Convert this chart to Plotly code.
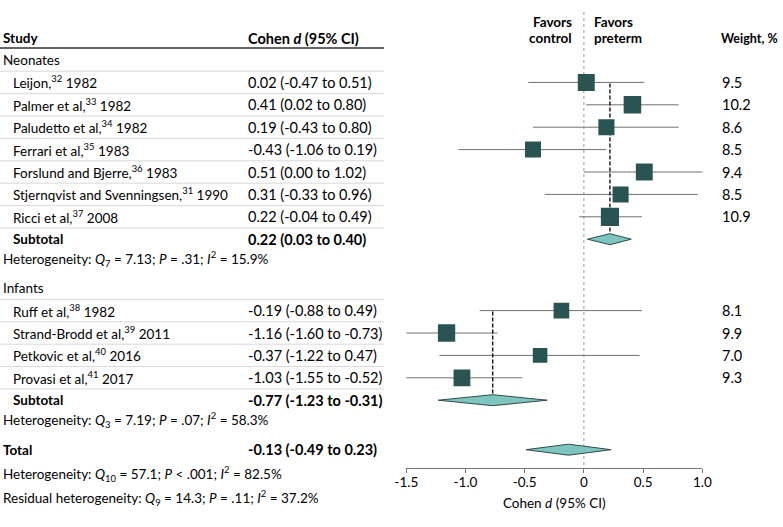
import plotly.graph_objects as go

# study rows
neo_labels = ["Leijon,<sup>32</sup> 1982", "Palmer et al,<sup>33</sup> 1982",
              "Paludetto et al,<sup>34</sup> 1982", "Ferrari et al,<sup>35</sup> 1983",
              "Forslund and Bjerre,<sup>36</sup> 1983",
              "Stjernqvist and Svenningsen,<sup>31</sup> 1990", "Ricci et al,<sup>37</sup> 2008"]
neo_d = [0.02, 0.41, 0.19, -0.43, 0.51, 0.31, 0.22]
neo_lo = [-0.47, 0.02, -0.43, -1.06, 0.00, -0.33, -0.04]
neo_hi = [0.51, 0.80, 0.80, 0.19, 1.02, 0.96, 0.49]
neo_w = [9.5, 10.2, 8.6, 8.5, 9.4, 8.5, 10.9]

inf_labels = ["Ruff et al,<sup>38</sup> 1982", "Strand-Brodd et al,<sup>39</sup> 2011",
              "Petkovic et al,<sup>40</sup> 2016", "Provasi et al,<sup>41</sup> 2017"]
inf_d = [-0.19, -1.16, -0.37, -1.03]
inf_lo = [-0.88, -1.60, -1.22, -1.55]
inf_hi = [0.49, -0.73, 0.47, -0.52]
inf_w = [8.1, 9.9, 7.0, 9.3]

# pooled estimates (d, lo, hi)
neo_sub = (0.22, 0.03, 0.40)
inf_sub = (-0.77, -1.23, -0.31)
total = (-0.13, -0.49, 0.23)

neo_het = "Heterogeneity: <i>Q</i><sub>7</sub> = 7.13; <i>P</i> = .31; <i>I</i><sup>2</sup> = 15.9%"
inf_het = "Heterogeneity: <i>Q</i><sub>3</sub> = 7.19; <i>P</i> = .07; <i>I</i><sup>2</sup> = 58.3%"
tot_het = "Heterogeneity: <i>Q</i><sub>10</sub> = 57.1; <i>P</i> < .001; <i>I</i><sup>2</sup> = 82.5%"
res_het = "Residual heterogeneity: <i>Q</i><sub>9</sub> = 14.3; <i>P</i> = .11; <i>I</i><sup>2</sup> = 37.2%"

tick_vals = [-1.5, -1.0, -0.5, 0, 0.5, 1.0]
tick_text = ["-1.5", "-1.0", "-0.5", "0", "0.5", "1.0"]

W, H = 783, 527
FONT = "Lato"
FS = 13.5
FS_NUM = 14.5
SQ = "#2a5452"
DIA = "#7ec5bf"
CI = "#707070"
AXIS_Y = 467.5
X0, X1 = 406.3, 702.3  # pixel positions of -1.5 and 1.0

def px(x):
    return x / W

# row layout (y in pixels from top)
y = 60
neo_y = []
for _ in neo_labels:
    y += 22.4
    neo_y.append(y)
y += 22.4
neo_sub_y = y
y += 20
neo_het_y = y
y += 29
inf_group_y = y
inf_y = []
for _ in inf_labels:
    y += 22.4
    inf_y.append(y)
y += 22.4
inf_sub_y = y
y += 20
inf_het_y = y
y += 29.5
total_y = y
y += 24
tot_het_y = y
y += 24.5
res_het_y = y

fig = go.Figure()

def fmt(d, lo, hi):
    return f"{d:.2f} ({lo:.2f} to {hi:.2f})"

ann = []
def txt(x, y, s, anchor="left", bold=False, size=FS):
    if bold:
        s = "<b>" + s + "</b>"
    ann.append(dict(x=px(x), y=y, xref="paper", yref="y", text=s, showarrow=False,
                    xanchor=anchor, yanchor="middle", borderpad=0,
                    font=dict(family=FONT, size=size, color="black")))

def sep(y):
    fig.add_shape(type="line", xref="paper", yref="y", x0=0, x1=px(384), y0=y, y1=y,
                  line=dict(color="#d9d9d9", width=1))

def diamond(est, yy, h=5.5):
    d, lo, hi = est
    fig.add_trace(go.Scatter(x=[lo, d, hi, d, lo], y=[yy, yy - h, yy, yy + h, yy],
                             mode="lines", fill="toself", fillcolor=DIA,
                             line=dict(color="#2e4c4a", width=1), hoverinfo="skip"))

# headers
txt(2, 38, "Study", bold=True)
txt(247, 38, "Cohen <i>d</i> (95% CI)", bold=True, size=FS_NUM)
txt(720, 38, "Weight, %", bold=True, size=12.5)
txt(573, 22, "Favors", anchor="right", bold=True)
txt(573, 38, "control", anchor="right", bold=True)
txt(593, 22, "Favors", bold=True)
txt(593, 38, "preterm", bold=True)
fig.add_shape(type="line", xref="paper", yref="y", x0=0, x1=px(384), y0=48, y1=48,
              line=dict(color="#333333", width=1.5))

def group(label, gy, labels, ds, los, his, ws, ys, sub, sub_y, het, het_y):
    txt(2, gy, label)
    sep((gy + ys[0]) / 2)
    for lab, d, lo, hi, w, yy in zip(labels, ds, los, his, ws, ys):
        txt(12, yy, lab)
        txt(247, yy, fmt(d, lo, hi), size=FS_NUM)
        txt(721, yy, f"{w:.1f}", size=FS_NUM)
        sep(yy + 11.2)
    txt(12, sub_y, "Subtotal", bold=True)
    txt(247, sub_y, fmt(*sub), bold=True, size=FS_NUM)
    txt(2, het_y, het)
    # CI lines
    cx, cy = [], []
    for lo, hi, yy in zip(los, his, ys):
        cx += [lo, hi, None]
        cy += [yy, yy, None]
    fig.add_trace(go.Scatter(x=cx, y=cy, mode="lines", line=dict(color=CI, width=1),
                             hoverinfo="skip"))
    # dashed pooled line
    fig.add_trace(go.Scatter(x=[sub[0], sub[0]], y=[ys[0] + 1, sub_y - 5.5], mode="lines",
                             line=dict(color="black", width=1.3, dash="4px,2px"),
                             hoverinfo="skip"))
    # squares sized by weight
    fig.add_trace(go.Scatter(
        x=ds, y=ys, mode="markers",
        marker=dict(symbol="square", color=SQ, opacity=1,
                    size=[5.5 * w ** 0.5 for w in ws], line=dict(width=0)),
        hoverinfo="skip"))
    diamond(sub, sub_y)

# zero line
fig.add_trace(go.Scatter(x=[0, 0], y=[12, AXIS_Y], mode="lines",
                         line=dict(color="#9a9a9a", width=1, dash="dot"), hoverinfo="skip"))

group("Neonates", 60, neo_labels, neo_d, neo_lo, neo_hi, neo_w, neo_y,
      neo_sub, neo_sub_y, neo_het, neo_het_y)
group("Infants", inf_group_y, inf_labels, inf_d, inf_lo, inf_hi, inf_w, inf_y,
      inf_sub, inf_sub_y, inf_het, inf_het_y)

txt(2, total_y, "Total", bold=True)
txt(247, total_y, fmt(*total), bold=True, size=FS_NUM)
txt(2, tot_het_y, tot_het)
txt(2, res_het_y, res_het)
diamond(total, total_y)

fig.update_layout(
    width=W, height=H, margin=dict(l=0, r=0, t=0, b=0, autoexpand=False),
    paper_bgcolor="white", plot_bgcolor="white", showlegend=False,
    annotations=ann,
    font=dict(family=FONT, size=FS, color="black"),
    xaxis=dict(domain=[px(X0), px(X1)], range=[-1.5, 1.0], tickvals=tick_vals,
               ticktext=tick_text, showgrid=False, zeroline=False, showline=True,
               anchor="free", position=(H - AXIS_Y) / H,
               linecolor="#777777", linewidth=1, ticks="outside", ticklen=4,
               tickcolor="#777777", tickfont=dict(family=FONT, size=FS), automargin=False,
               ticklabelstandoff=-2,
               title=dict(text="Cohen <i>d</i> (95% CI)", font=dict(family=FONT, size=FS),
                          standoff=9)),
    yaxis=dict(domain=[0, 1], range=[H, 0], visible=False, automargin=False),
)

fig.write_html("out.html", config={"displayModeBar": False},
               post_script="document.body.style.margin='0';")
